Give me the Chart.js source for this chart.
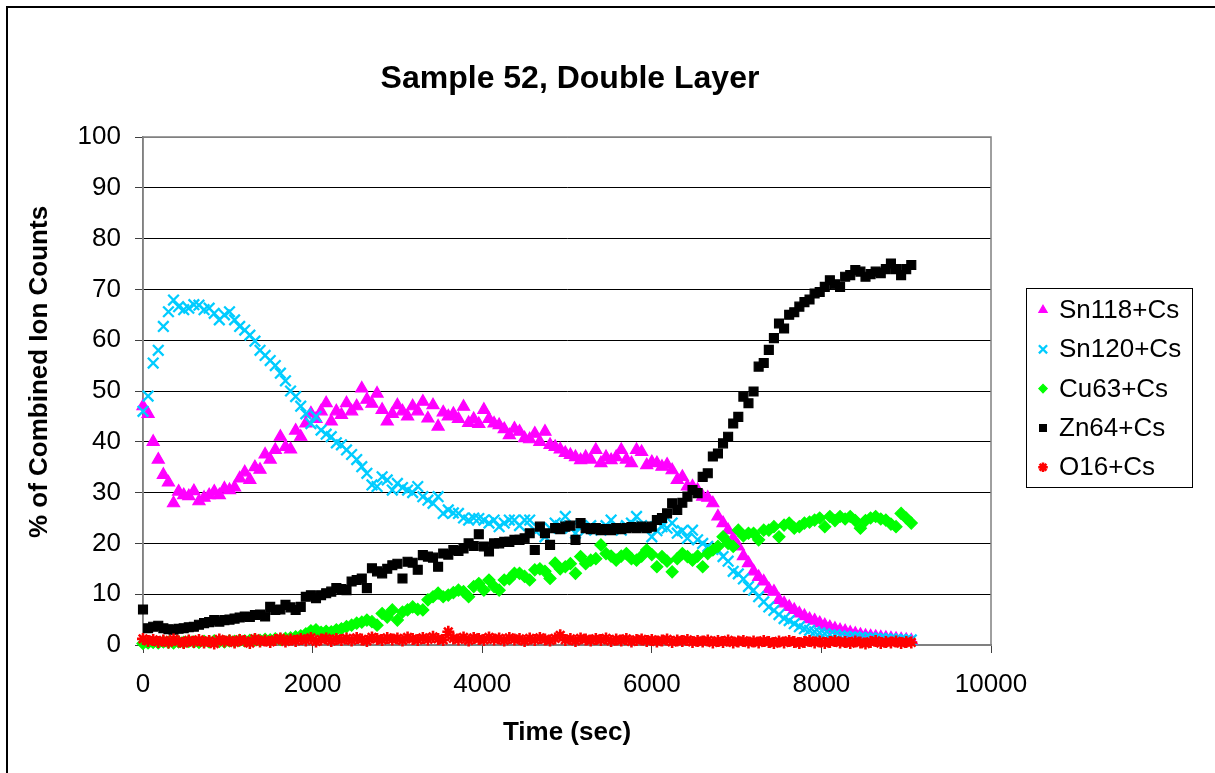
<!DOCTYPE html>
<html>
<head>
<meta charset="utf-8">
<title>Sample 52, Double Layer</title>
<script src="https://cdn.jsdelivr.net/npm/chart.js@4/dist/chart.umd.min.js"></script>
<style>
  html, body { margin: 0; padding: 0; background: #fff; }
  #wrap { width: 1215px; height: 773px; }
</style>
</head>
<body>
<div id="wrap"><canvas id="chart" width="1215" height="773"></canvas></div>
<script>
// temps (s) communs à toutes les séries
const TIME = [
  0, 60, 120, 180, 240, 300, 360, 420, 480, 540,
  600, 660, 720, 780, 840, 900, 960, 1020, 1080, 1140,
  1200, 1260, 1320, 1380, 1440, 1500, 1560, 1620, 1680, 1740,
  1800, 1860, 1920, 1980, 2040, 2100, 2160, 2220, 2280, 2340,
  2400, 2460, 2520, 2580, 2640, 2700, 2760, 2820, 2880, 2940,
  3000, 3060, 3120, 3180, 3240, 3300, 3360, 3420, 3480, 3540,
  3600, 3660, 3720, 3780, 3840, 3900, 3960, 4020, 4080, 4140,
  4200, 4260, 4320, 4380, 4440, 4500, 4560, 4620, 4680, 4740,
  4800, 4860, 4920, 4980, 5040, 5100, 5160, 5220, 5280, 5340,
  5400, 5460, 5520, 5580, 5640, 5700, 5760, 5820, 5880, 5940,
  6000, 6060, 6120, 6180, 6240, 6300, 6360, 6420, 6480, 6540,
  6600, 6660, 6720, 6780, 6840, 6900, 6960, 7020, 7080, 7140,
  7200, 7260, 7320, 7380, 7440, 7500, 7560, 7620, 7680, 7740,
  7800, 7860, 7920, 7980, 8040, 8100, 8160, 8220, 8280, 8340,
  8400, 8460, 8520, 8580, 8640, 8700, 8760, 8820, 8880, 8940,
  9000, 9060
];

const SN118 = [
  47, 45.5, 40, 36.5, 33.5, 32, 27.9, 30.2, 29.5, 29.3,
  30.3, 28.3, 29, 29.5, 30.2, 29.5, 30.8, 30.5, 31, 32.8,
  34, 32.5, 35, 34.5, 37.5, 36.5, 38.4, 41, 39, 38.5,
  42.2, 41, 43.6, 45.6, 44.5, 46, 47.6, 44, 46, 45.3,
  47.6, 46, 47, 50.5, 48.3, 47.5, 49.5, 46.3, 44, 45.5,
  47.2, 46, 45, 47, 46, 47.9, 44.6, 47.2, 43, 45.8,
  45, 45.5, 44.5, 46.9, 43.7, 44.5, 43.5, 46.3, 44.5, 43.6,
  43.3, 42.5, 41.3, 42.6, 42, 40.7, 40.5, 41.6, 40, 42,
  39.4, 39, 38.5, 37.8, 37.4, 37, 36.4, 37, 36.5, 38.4,
  35.8, 37, 36.4, 37, 38.4, 36.5, 35.8, 38.4, 38, 35.4,
  36, 35.8, 35.1, 35.5, 34.4, 32.5, 33.1, 31.2, 31.2, 30.5,
  29.2, 29, 27.9, 25.3, 24, 22.6, 21, 19.4, 17.5, 16.1,
  14.5, 13.4, 12.5, 11, 10.5, 8.9, 8.2, 7.5, 6.9, 6.2,
  5.7, 5.1, 4.8, 4.3, 3.9, 3.5, 3.2, 2.9, 2.7, 2.4,
  2.2, 2, 1.8, 1.7, 1.6, 1.5, 1.4, 1.3, 1.2, 1.1,
  1, 0.9
];

const SN120 = [
  46, 49, 55.5, 58, 62.7, 65.6, 67.9, 66.6, 66, 66.3,
  67, 66.9, 66, 66.3, 65.3, 64, 65, 65.6, 64, 62.7,
  62, 61, 59.8, 58, 57, 56, 55, 53.5, 52, 50,
  48.9, 47, 45.5, 43.6, 45, 42.3, 41.5, 41, 39.8, 39.4,
  38.4, 37.5, 36.5, 35.1, 33.8, 31.5, 31.2, 33.1, 32.5, 30.5,
  31.8, 31, 30.5, 30, 31.2, 29.2, 28.5, 27.9, 29.2, 25.9,
  26.6, 26, 25.9, 25, 24.6, 25, 24.9, 24.6, 24, 24.6,
  23.3, 24, 24.6, 24.6, 23.5, 24.6, 24.6, 22.6, 23, 21.3,
  23, 24, 23.5, 25.3, 23, 22, 23.5, 22.6, 23.5, 22.8,
  22.6, 23.5, 24.6, 23, 22.6, 23.5, 24, 25.3, 23.5, 23.3,
  21.3, 22.5, 23.3, 23, 24, 22, 22.5, 21, 22.6, 20.7,
  20, 19.4, 18.8, 18.7, 17.4, 16.5, 14.5, 14, 13, 11.5,
  10.8, 9.5, 8.5, 7.5, 6.8, 6, 5.2, 4.8, 4.2, 3.6,
  3.2, 2.9, 2.6, 2.4, 2.2, 2, 2, 1.8, 1.7, 1.6,
  1.6, 1.5, 1.4, 1.4, 1.3, 1.3, 1.2, 1.2, 1.1, 1.1,
  1, 1
];

const CU63 = [
  0.3, 0.4, 0.5, 0.4, 0.6, 0.5, 0.4, 0.6, 0.5, 0.7,
  0.6, 0.5, 0.7, 0.6, 0.8, 0.7, 0.6, 0.8, 0.7, 0.9,
  0.8, 0.9, 1.0, 0.9, 1.1, 1.0, 1.2, 1.1, 1.3, 1.4,
  1.6, 1.8, 2.2, 2.8, 3, 2.5, 2.7, 2.6, 3, 3.2,
  3.6, 3.9, 4.3, 4.5, 4.9, 4.6, 3.9, 6.2, 5.5, 6.9,
  4.9, 6.5, 6.9, 7.5, 7, 6.9, 8.9, 9.5, 10.2, 9.5,
  9.8, 10.3, 10.8, 10.5, 9.5, 11.5, 12.1, 10.8, 12.8, 11.5,
  10.8, 12.8, 13, 14.1, 14.1, 13.5, 12.8, 14.8, 15, 14.5,
  13.1, 16.1, 15, 15.4, 16, 14.1, 17.4, 16, 16.7, 17,
  19.7, 18, 17.5, 16.7, 17.5, 18, 17, 16.7, 17.5, 18.7,
  17.8, 15.4, 17.4, 16.5, 14.4, 17, 18, 17.4, 16.7, 17.5,
  15.4, 18, 18.7, 19.4, 21.3, 20, 19.4, 22.6, 21.5, 22,
  22, 20.7, 22.6, 22.6, 23.3, 21.3, 23.6, 24, 23, 23.3,
  24, 24.2, 24.6, 25, 23.3, 25.3, 24.5, 25.3, 24.8, 25.3,
  24.5, 23, 24.5, 25, 25.3, 24.8, 24.6, 23.8, 23.3, 25.9,
  25, 24
];

const ZN64 = [
  7, 3.3, 3.6, 3.8, 3.3, 3.1, 3, 3.2, 3.3, 3.5,
  3.6, 4, 4.3, 4.5, 4.9, 4.6, 4.9, 5, 5.2, 5.4,
  5.6, 5.5, 5.9, 6, 5.6, 7.5, 6.9, 7, 7.9, 7.4,
  6.9, 7.5, 9.5, 9.8, 9.2, 9.8, 10.2, 10.5, 11.2, 11,
  10.8, 12.5, 12.8, 13.1, 11.2, 15.1, 14.5, 14.1, 15, 15.7,
  16, 13.1, 16.4, 16.2, 14.8, 17.7, 17.4, 17.2, 15.4, 18,
  17.8, 18.7, 18.5, 19, 20, 19.5, 21.8, 19.4, 18.4, 20,
  20, 20.3, 20.3, 20.7, 20.7, 21, 22, 18.7, 23.3, 22,
  19.7, 23, 22.8, 23.3, 23.5, 20.7, 24, 23, 22.8, 23,
  22.6, 22.8, 22.6, 23, 22.8, 23, 23.2, 23, 23.3, 23,
  23.3, 24.6, 25, 25.9, 27.9, 26.6, 28, 29.2, 30.5, 29.9,
  33.1, 33.8, 37.1, 37.7, 39.7, 41, 43.6, 44.9, 48.9, 47.6,
  49.9, 54.8, 55.5, 58.1, 60.4, 63.3, 62.3, 65, 65.5, 66.6,
  67.5, 68, 69.2, 69.5, 70.5, 71.8, 71, 70.5, 72.5, 72.8,
  73.8, 73.5, 72.5, 73, 73.5, 73.2, 74, 75.1, 74, 72.8,
  74, 74.8
];

const O16 = [
  1.2, 0.8, 1.0, 0.6, 0.9, 0.5, 1.1, 0.7, 0.4, 0.9,
  0.6, 1.0, 0.5, 0.8, 0.3, 1.1, 0.7, 0.9, 0.5, 1.0,
  0.8, 0.4, 1.2, 0.7, 0.9, 0.6, 1.0, 1.3, 0.7, 1.1,
  0.8, 1.2, 0.9, 1.4, 0.7, 1.1, 1.3, 0.8, 1.2, 1.0,
  1.3, 0.9, 1.4, 1.1, 0.8, 1.5, 1.2, 1.0, 1.4, 1.1,
  1.3, 0.9, 1.5, 1.2, 1.0, 1.4, 1.1, 1.6, 1.2, 1.0,
  2.6, 1.3, 1.1, 1.5, 0.9, 1.4, 1.2, 1.0, 1.5, 1.1,
  1.3, 0.9, 1.4, 1.1, 1.2, 0.8, 1.3, 1.0, 1.4, 1.1,
  0.9, 1.3, 1.9, 1.0, 1.2, 0.8, 1.3, 1.1, 0.9, 1.2,
  1.0, 1.3, 0.8, 1.1, 0.9, 1.2, 0.7, 1.0, 1.1, 0.8,
  1.0, 0.7, 0.9, 1.1, 0.6, 0.9, 0.8, 1.0, 0.6, 0.8,
  0.7, 0.9, 0.5, 0.8, 0.6, 0.9, 0.5, 0.7, 0.8, 0.5,
  0.7, 0.5, 0.8, 0.6, 0.4, 0.7, 0.5, 0.8, 0.6, 0.4,
  0.6, 0.8, 0.5, 0.7, 0.4, 0.6, 0.8, 0.5, 0.6, 0.4,
  0.7, 0.5, 0.3, 0.6, 0.8, 0.4, 0.6, 0.5, 0.7, 0.4,
  0.6, 0.5
];

const X_TICKS = [0, 2000, 4000, 6000, 8000, 10000];
const Y_TICKS = [0, 10, 20, 30, 40, 50, 60, 70, 80, 90, 100];

const FONT = '"Liberation Sans", Arial, sans-serif';

// série -> style (ordre: plus grand = dessiné en premier, comme Excel)
const SERIES = [
  { label: 'Sn118+Cs', values: SN118, color: '#FF00FF', style: 'triangle', radius: 7, bw: 1.2, order: 5, lr: 4.8 },
  { label: 'Sn120+Cs', values: SN120, color: '#00CCFF', style: 'crossRot', radius: 7.5, bw: 2.3, order: 4, lr: 5.8 },
  { label: 'Cu63+Cs',  values: CU63,  color: '#00FF00', style: 'rectRot',  radius: 6, bw: 1.2, order: 3, lr: 4.2 },
  { label: 'Zn64+Cs',  values: ZN64,  color: '#000000', style: 'rect',     radius: 6.3, bw: 1.2, order: 2, lr: 4.8 },
  { label: 'O16+Cs',   values: O16,   color: '#FF0000', style: 'star',     radius: 6, bw: 2.6, order: 1, lr: 4.8 }
];

const datasets = SERIES.map(s => ({
  label: s.label,
  data: TIME.map((t, i) => ({ x: t, y: s.values[i] })),
  pointStyle: s.style,
  pointRadius: s.radius,
  pointBorderWidth: s.bw,
  pointBackgroundColor: s.color,
  pointBorderColor: s.color,
  showLine: false,
  clip: false,
  order: s.order
}));

// Cadre, titres et légende dessinés à la main (style Excel)
const decor = {
  id: 'decor',
  beforeDraw(chart) {
    const { ctx, width, height } = chart;
    ctx.save();
    ctx.fillStyle = '#fff';
    ctx.fillRect(0, 0, width, height);
    ctx.restore();
  },
  beforeDatasetsDraw(chart) {
    const { ctx, chartArea: a } = chart;
    ctx.save();
    ctx.strokeStyle = '#808080';
    ctx.lineWidth = 1.5;
    ctx.strokeRect(a.left, a.top, a.right - a.left, a.bottom - a.top);
    ctx.restore();
  },
  afterDraw(chart) {
    const { ctx } = chart;
    ctx.save();

    // bord extérieur (seuls haut et gauche sont visibles)
    ctx.strokeStyle = '#000';
    ctx.lineWidth = 2;
    ctx.beginPath();
    ctx.moveTo(7, chart.height);
    ctx.lineTo(7, 7);
    ctx.lineTo(chart.width, 7);
    ctx.stroke();

    ctx.fillStyle = '#000';
    ctx.textAlign = 'center';
    ctx.textBaseline = 'alphabetic';

    ctx.font = 'bold 32px ' + FONT;
    ctx.fillText('Sample 52, Double Layer', 570, 88);

    ctx.font = 'bold 26px ' + FONT;
    ctx.fillText('Time (sec)', 567, 740);

    ctx.save();
    ctx.translate(47, 372);
    ctx.rotate(-Math.PI / 2);
    ctx.fillText('% of Combined Ion Counts', 0, 0);
    ctx.restore();

    // légende
    ctx.strokeStyle = '#000';
    ctx.lineWidth = 1;
    ctx.strokeRect(1026.5, 288.5, 166, 199);
    ctx.font = '26px ' + FONT;
    ctx.textAlign = 'left';
    ctx.textBaseline = 'middle';
    const drawPoint = Chart.helpers && Chart.helpers.drawPoint;
    SERIES.forEach((s, i) => {
      const y = 310 + i * 39.3;
      ctx.fillStyle = s.color;
      ctx.strokeStyle = s.color;
      ctx.lineWidth = s.bw;
      if (drawPoint) {
        drawPoint(ctx, { pointStyle: s.style, radius: s.lr, borderWidth: s.bw, rotation: 0 }, 1043, y);
      }
      ctx.fillStyle = '#000';
      ctx.fillText(s.label, 1059, y + 1);
    });

    ctx.restore();
  }
};

new Chart(document.getElementById('chart'), {
  type: 'scatter',
  data: { datasets },
  plugins: [decor],
  options: {
    responsive: false,
    animation: false,
    events: [],
    layout: { padding: { top: 137, right: 224, left: 0, bottom: 0 } },
    plugins: {
      legend: { display: false },
      title: { display: false },
      tooltip: { enabled: false }
    },
    scales: {
      x: {
        type: 'linear',
        min: X_TICKS[0],
        max: X_TICKS[X_TICKS.length - 1],
        afterFit: s => { s.height = 128; },
        afterBuildTicks: s => { s.ticks = X_TICKS.map(v => ({ value: v })); },
        border: { display: true, color: '#808080', width: 1.5 },
        grid: { drawOnChartArea: false, drawTicks: true, tickLength: 8, tickColor: '#404040', tickWidth: 1 },
        ticks: {
          color: '#000',
          padding: 16,
          maxRotation: 0,
          autoSkip: false,
          font: { family: FONT, size: 26 },
          callback: v => String(v)
        }
      },
      y: {
        type: 'linear',
        min: Y_TICKS[0],
        max: Y_TICKS[Y_TICKS.length - 1],
        afterFit: s => { s.width = 143; },
        afterBuildTicks: s => { s.ticks = Y_TICKS.map(v => ({ value: v })); },
        border: { display: true, color: '#808080', width: 1.5 },
        grid: {
          drawOnChartArea: true,
          drawTicks: true,
          tickLength: 8,
          tickColor: '#404040',
          color: ctx => (ctx.tick && (ctx.tick.value === 100 || ctx.tick.value === 0)) ? '#808080' : '#000',
          lineWidth: 1
        },
        ticks: {
          color: '#000',
          padding: 14,
          autoSkip: false,
          font: { family: FONT, size: 26 },
          callback: v => String(v)
        }
      }
    }
  }
});
</script>
</body>
</html>
